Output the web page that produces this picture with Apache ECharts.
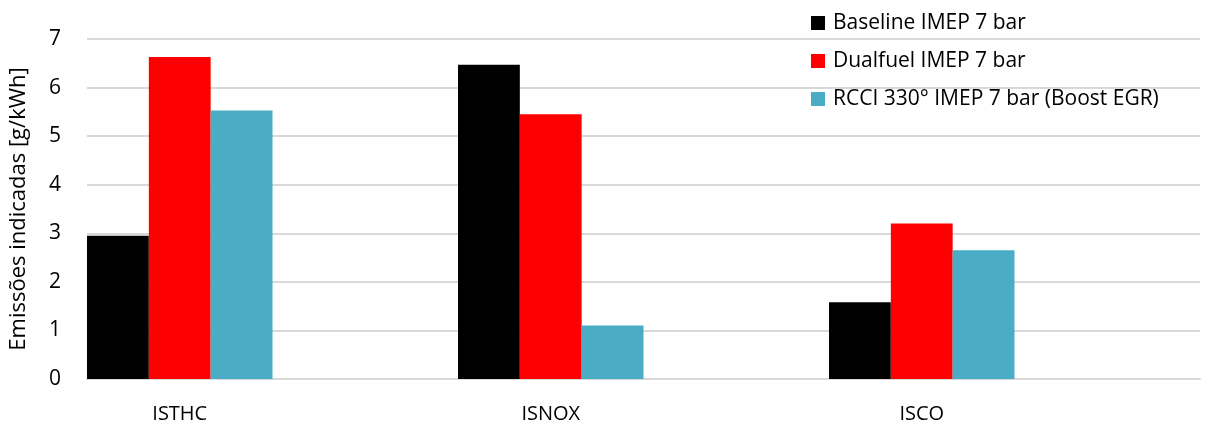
<!DOCTYPE html>
<html>
<head>
<meta charset="utf-8">
<script src="https://cdn.jsdelivr.net/npm/echarts@6/dist/echarts.min.js"></script>
<style>
  html, body { margin: 0; padding: 0; background: #fff; }
  #chart { width: 1208px; height: 427px; }
</style>
</head>
<body>
<div id="chart"></div>
<script>
// categories (empty slots keep the Excel-style spacing)
const categories = ['ISTHC', '', 'ISNOX', '', 'ISCO', '']
const baseline = [2.95, null, 6.47, null, 1.58, null]
const dualfuel = [6.63, null, 5.45, null, 3.20, null]
const rcci = [5.53, null, 1.10, null, 2.65, null]
const seriesNames = ['Baseline IMEP 7 bar', 'Dualfuel IMEP 7 bar', 'RCCI 330° IMEP 7 bar (Boost EGR)']
const colors = ['#000000', '#ff0000', '#4bacc6']

const font = 'Open Sans, sans-serif'
const chart = echarts.init(document.getElementById('chart'))

chart.setOption({
  animation: false,
  color: colors,
  textStyle: { fontFamily: font },
  grid: { left: 87, right: 8, top: 39, bottom: 48, containLabel: false },
  legend: {
    orient: 'vertical',
    left: 806,
    top: 5,
    itemWidth: 14,
    itemHeight: 14,
    itemGap: 12,
    icon: 'rect',
    textStyle: { fontSize: 21, lineHeight: 26, color: '#000', fontFamily: font, padding: [0, 0, 0, 3] },
    data: seriesNames
  },
  xAxis: {
    type: 'category',
    data: categories,
    axisLine: { lineStyle: { color: '#d9d9d9', width: 2 } },
    axisTick: { show: false },
    axisLabel: { interval: 0, fontSize: 20, color: '#000', margin: 25, fontFamily: font }
  },
  yAxis: {
    type: 'value',
    min: 0,
    max: 7,
    interval: 1,
    name: 'Emissões indicadas [g/kWh]',
    nameLocation: 'middle',
    nameGap: 57,
    nameTextStyle: { fontSize: 22, color: '#000', fontFamily: font },
    axisLine: { show: false },
    axisTick: { show: false },
    axisLabel: { fontSize: 21, color: '#000', margin: 26, fontFamily: font },
    splitLine: { lineStyle: { color: '#d9d9d9', width: 2 } }
  },
  series: [
    { name: seriesNames[0], type: 'bar', data: baseline, barGap: '0%', barCategoryGap: '0%' },
    { name: seriesNames[1], type: 'bar', data: dualfuel, barGap: '0%', barCategoryGap: '0%' },
    { name: seriesNames[2], type: 'bar', data: rcci, barGap: '0%', barCategoryGap: '0%' }
  ]
})
</script>
</body>
</html>
